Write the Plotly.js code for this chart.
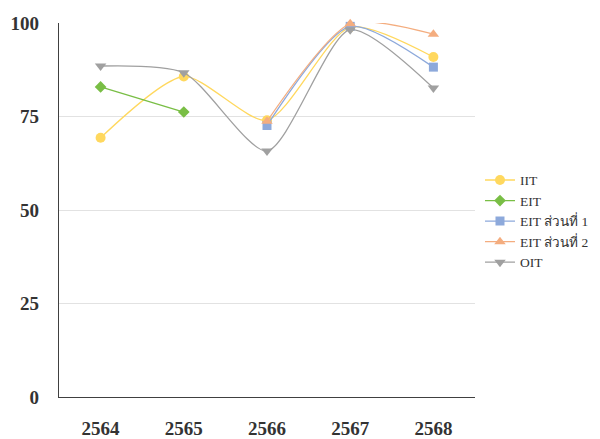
<!DOCTYPE html>
<html><head><meta charset="utf-8">
<script src="https://cdn.plot.ly/plotly-3.0.1.min.js"></script>
<style>body{margin:0;background:#fff}#chart{width:600px;height:439px}</style>
</head><body><div id="chart"></div>
<script>
const years = ["2564","2565","2566","2567","2568"];
const iit = [69.3, 85.7, 74.0, 98.9, 90.9];
const eit = [82.9, 76.2, null, null, null];
const eit1 = [null, null, 72.6, 99.1, 88.2];
const eit2 = [null, null, 73.7, 99.8, 97.0];
const oit = [88.5, 86.7, 65.8, 98.2, 82.6];
const yTicks = [0, 25, 50, 75, 100];

function tr(name, y, color, symbol, size) {
  return {type:'scatter', mode:'lines+markers', name:name, x:years, y:y,
    line:{color:color, width:1.3, shape:'spline', smoothing:0.7},
    marker:{color:color, symbol:symbol, size:size},
    connectgaps:false, cliponaxis:false};
}
const data = [
  tr('IIT', iit, '#FFD85E', 'circle', 10),
  tr('EIT', eit, '#79BE45', 'diamond', 9),
  tr('EIT ส่วนที่ 1', eit1, '#8DA9DB', 'square', 9),
  tr('EIT ส่วนที่ 2', eit2, '#F4AD7F', 'triangle-up', 10),
  tr('OIT', oit, '#A0A0A0', 'triangle-down', 10)
];
const tf = {size:19, family:'"Liberation Serif", "Times New Roman", serif', weight:'bold', color:'#333'};
const layout = {
  width:600, height:439,
  margin:{l:59, r:125, t:23, b:42, autoexpand:false},
  paper_bgcolor:'#fff', plot_bgcolor:'#fff',
  showlegend:true,
  font:{family:'"Liberation Serif", "Times New Roman", serif', color:'#333'},
  xaxis:{type:'category', range:[-0.5,4.5], showgrid:false, showline:true,
    linecolor:'#404040', linewidth:1.3, ticks:'', ticklabelstandoff:14,
    tickfont:tf, fixedrange:true},
  yaxis:{range:[0,100], tickvals:yTicks, ticktext:yTicks.map(String), showgrid:true, gridcolor:'#E2E2E2', gridwidth:1,
    showline:true, linecolor:'#404040', linewidth:1.3, ticks:'', ticklabelstandoff:15, zeroline:false,
    tickfont:tf, fixedrange:true},
  legend:{x:1.012, y:0.47, xanchor:'left', yanchor:'middle', font:{size:13.5, color:'#333'},
    itemwidth:30, tracegroupgap:0, bgcolor:'rgba(0,0,0,0)'}
};
Plotly.newPlot('chart', data, layout, {displayModeBar:false, staticPlot:true});
</script></body></html>
